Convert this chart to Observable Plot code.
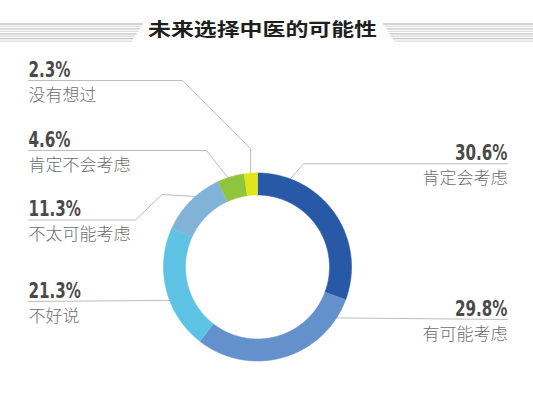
<!DOCTYPE html>
<html><head><meta charset="utf-8">
<script src="https://cdn.jsdelivr.net/npm/d3@7"></script>
<script src="https://cdn.jsdelivr.net/npm/@observablehq/plot@0.6"></script>
<style>
body{margin:0;background:#fff;}
#head{width:533px;height:50px;display:block;}
#chart svg{display:block;}
</style></head><body>
<svg id="head" width="533" height="50"></svg>
<div id="chart"></div>
<script>
// ---- data ----
const title = "未来选择中医的可能性";
const categories = ["肯定会考虑","有可能考虑","不好说","不太可能考虑","肯定不会考虑","没有想过"];
const values = [30.6, 29.8, 21.3, 11.3, 4.6, 2.3];
const valueLabels = ["30.6%","29.8%","21.3%","11.3%","4.6%","2.3%"];
const colors = ["#2859a6","#6490cb","#5ec2e5","#80b3d7","#8fc53d","#e2e51c"];

// ---- layout (px relative to donut centre, y downward) ----
const R = 94, R0 = 72;
const sides   = ["right","right","left","left","left","left"];
const lineYs  = [-103.2, 52.5, 34.5, -47, -116.5, -186.5];
const elbows  = [[[46,-103.2]], [], [], [[-122,-47],[-95.5,-72.5]], [[-51,-116.5]], [[-75,-186.5],[-7,-118.5]]];
const anchorDeg = [19.7, 124, 248.5, 320.5, 342.4, 355.7];
const leftX = -229, rightX = 250;

// ---- header: stripes + title ----
const head = d3.select("#head");
const stripeYs = d3.range(8).map(i => 24 + i * 2.45);
stripeYs.forEach((y, i) => {
  const col = i % 2 ? "#dcdcdc" : "#c4c4c4";
  head.append("line").attr("x1", 0).attr("x2", 143 - i * 1.6).attr("y1", y).attr("y2", y)
    .attr("stroke", col).attr("stroke-width", 1.3);
  head.append("line").attr("x1", 383 + i * 1.6).attr("x2", 533).attr("y1", y).attr("y2", y)
    .attr("stroke", col).attr("stroke-width", 1.3);
});
head.append("text").attr("x", 148).attr("y", 35.5)
  .attr("textLength", 229).attr("lengthAdjust", "spacingAndGlyphs")
  .attr("font-family", "'Noto Sans CJK SC', sans-serif").attr("font-weight", "bold")
  .attr("font-size", 18).attr("fill", "#1e1e1e").text(title);

// ---- donut polygons ----
const arcs = d3.pie().sort(null).value(d => d)(values);
const ringPts = [];
arcs.forEach((a, i) => {
  const n = Math.max(4, Math.ceil((a.endAngle - a.startAngle) / 0.01));
  for (let k = 0; k <= n; k++) {
    const t = a.startAngle + (a.endAngle - a.startAngle) * k / n;
    ringPts.push({cat: categories[i], x: R * Math.sin(t), y: -R * Math.cos(t)});
  }
  for (let k = n; k >= 0; k--) {
    const t = a.startAngle + (a.endAngle - a.startAngle) * k / n;
    ringPts.push({cat: categories[i], x: R0 * Math.sin(t), y: -R0 * Math.cos(t)});
  }
});

// ---- leader lines ----
const leaderPts = [];
categories.forEach((c, i) => {
  const sx = sides[i] === "left" ? leftX : rightX;
  leaderPts.push({k: c, x: sx, y: lineYs[i]});
  elbows[i].forEach(([x, y]) => leaderPts.push({k: c, x, y}));
  const t = anchorDeg[i] * Math.PI / 180;
  leaderPts.push({k: c, x: (R - 3) * Math.sin(t), y: -(R - 3) * Math.cos(t)});
});

const rows = categories.map((c, i) => ({cat: c, label: valueLabels[i], side: sides[i], ly: lineYs[i]}));
const numFont = "'DejaVu Sans Condensed', 'Liberation Sans Narrow', 'DejaVu Sans', sans-serif";
const cjkFont = "'Noto Sans CJK SC', sans-serif";

const W = 533, H = 345;
const plot = Plot.plot({
  width: W, height: H,
  margin: 0,
  x: {domain: [-257, 276], range: [0, W], axis: null},
  y: {domain: [-216.5, 128.5], range: [0, H], axis: null},
  color: {domain: categories, range: colors},
  marks: [
    Plot.line(leaderPts, {x: "x", y: "y", z: "k", stroke: "#bdbdbd", strokeWidth: 1, curve: "linear"}),
    Plot.line(ringPts, {x: "x", y: "y", z: "cat", fill: "cat", stroke: "cat", strokeWidth: 0.6, curve: "linear"}),
    Plot.text(rows.filter(d => d.side === "left"), {x: () => leftX, y: d => d.ly - 4, text: "label",
      textAnchor: "start", lineAnchor: "bottom", fontFamily: numFont, fontWeight: "bold", fontSize: 21, fill: "#4a4a4a"}),
    Plot.text(rows.filter(d => d.side === "right"), {x: () => rightX, y: d => d.ly - 4, text: "label",
      textAnchor: "end", lineAnchor: "bottom", fontFamily: numFont, fontWeight: "bold", fontSize: 21, fill: "#4a4a4a"}),
    Plot.text(rows.filter(d => d.side === "left"), {x: () => leftX, y: d => d.ly + 20, text: "cat",
      textAnchor: "start", lineAnchor: "bottom", fontFamily: cjkFont, fontWeight: 300, fontSize: 17, fill: "#6e6e6e"}),
    Plot.text(rows.filter(d => d.side === "right"), {x: () => rightX, y: d => d.ly + 20, text: "cat",
      textAnchor: "end", lineAnchor: "bottom", fontFamily: cjkFont, fontWeight: 300, fontSize: 17, fill: "#6e6e6e"})
  ]
});
document.getElementById("chart").appendChild(plot);

// condense the percentage labels horizontally (reference uses a narrow bold face)
const numTexts = Array.from(plot.querySelectorAll("text")).filter(t => /%$/.test(t.textContent));
const ref = numTexts.find(t => t.textContent === "2.3%");
const k = ref ? Math.min(1, 42 / ref.getComputedTextLength()) : 0.8;
numTexts.forEach(t => {
  const L = t.getComputedTextLength();
  t.setAttribute("textLength", (L * k).toFixed(1));
  t.setAttribute("lengthAdjust", "spacingAndGlyphs");
});
</script>
</body></html>
